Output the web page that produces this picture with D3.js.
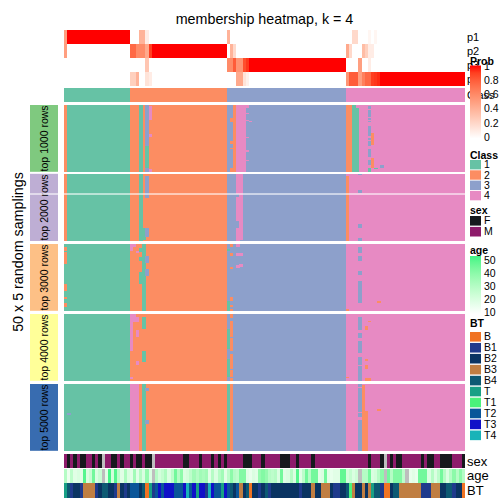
<!DOCTYPE html>
<html><head><meta charset="utf-8">
<script src="https://cdn.jsdelivr.net/npm/d3@7"></script>
<style>body{margin:0;background:#fff;} text{font-family:"Liberation Sans",Arial,sans-serif;}</style>
</head><body><svg id="c" width="504" height="504"></svg>
<script>
// ---------------- data ----------------
const classIds = [1,2,3,4];
const classOfColumn = [
 1,1,1,1,1,1,1,1,1,1,1,1,1,1,1,1,
 1,1,1,1,1,2,2,2,2,2,2,2,2,2,2,2,
 2,2,2,2,2,2,2,2,2,2,2,2,2,2,2,2,
 2,2,2,2,3,3,3,3,3,3,3,3,3,3,3,3,
 3,3,3,3,3,3,3,3,3,3,3,3,3,3,3,3,
 3,3,3,3,3,3,3,3,3,3,4,4,4,4,4,4,
 4,4,4,4,4,4,4,4,4,4,4,4,4,4,4,4,
 4,4,4,4,4,4,4,4,4,4,4,4,4,4,4,4];
const p1 = [
 .5,1,1,1,1,1,1,1,1,1,1,1,1,1,1,1,
 1,1,1,1,1,0,0,0,.4,.4,.1,0,0,0,0,0,
 0,0,0,0,0,0,0,0,0,0,0,0,0,0,0,0,
 0,0,0,0,.4,0,0,0,0,0,0,0,0,0,0,0,
 0,0,0,0,0,0,0,0,0,0,0,0,0,0,0,0,
 0,0,0,0,0,0,0,0,0,0,0,0,.2,.2,0,0,
 0,.05,0,.05,0,0,0,0,0,0,0,0,0,0,0,0,
 0,0,0,0,0,0,0,0,0,0,0,0,0,0,0,0];
const p2 = [
 .5,0,0,0,0,0,0,0,0,0,0,0,0,0,0,0,
 0,0,0,0,0,.75,.75,.6,.6,.6,.45,.9,1,1,1,1,
 1,1,1,1,1,1,1,1,1,1,1,1,1,1,1,1,
 1,1,1,1,0,.4,.2,0,0,0,0,0,0,0,0,0,
 0,0,0,0,0,0,0,0,0,0,0,0,0,0,0,0,
 0,0,0,0,0,0,0,0,0,0,.45,.2,0,0,0,.35,
 .25,.1,.1,0,0,0,0,0,0,0,0,0,0,0,0,0,
 0,0,0,0,0,0,0,0,0,0,0,0,0,0,0,0];
const p3 = [
 0,0,0,0,0,0,0,0,0,0,0,0,0,0,0,0,
 0,0,0,0,0,0,0,0,0,0,.3,0,0,0,0,0,
 0,0,0,0,0,0,0,0,0,0,0,0,0,0,0,0,
 0,0,0,0,.6,.6,.8,.55,.55,.85,.92,1,1,1,1,1,
 1,1,1,1,1,1,1,1,1,1,1,1,1,1,1,1,
 1,1,1,1,1,1,1,1,1,1,0,0,0,0,.5,0,
 0,.1,0,0,0,0,0,0,0,0,0,0,0,0,0,0,
 0,0,0,0,0,0,0,0,0,0,0,0,0,0,0,0];
const p4 = [
 0,0,0,0,0,0,0,0,0,0,0,0,0,0,0,0,
 0,0,0,0,0,.25,.25,.4,0,0,.15,.1,0,0,0,0,
 0,0,0,0,0,0,0,0,0,0,0,0,0,0,0,0,
 0,0,0,0,0,0,0,.45,.45,.15,.08,0,0,0,0,0,
 0,0,0,0,0,0,0,0,0,0,0,0,0,0,0,0,
 0,0,0,0,0,0,0,0,0,0,.55,.8,.8,.8,.5,.65,
 .75,.75,.9,.92,.95,1,1,1,1,1,1,1,1,1,1,1,
 1,1,1,1,1,1,1,1,1,1,1,1,1,1,1,1];
const probNames = ["p1","p2","p3","p4"];
const N=null;
const sex = [
 "M","F","M","F","M","F","F","M","M","F","M","F",N,"M","M","F",
 "F","M","F","M","M","F","M","F","F","M","F","F",N,"M","M","M",
 "M","M","M","M","M","M","F","F","M","M","M","F","M","M","M","F",
 "M","F","M","F","M","M","M","M","M","F","F","F","M","M","M","F",
 "M","M","M","M","M","F","F","F","M","M","F","M","M","M","M","F",
 "M","M","M","M","M","M","M","M","M","M","M","M","M","M","M","M",
 "M","F","M","M","M","F",N,"M","F","M","F","F","M","M","M","M",
 "M","M","F","M","F","F","M","M","F","F","F","F","M","M","M","F"];
const age = [
 30,15,28,18,20,18,50,20,25,45,20,25,N,18,52,22,
 50,28,18,32,20,18,35,18,30,20,38,20,N,30,22,26,
 32,20,28,45,30,40,20,22,28,35,30,35,33,35,18,30,
 20,30,35,18,28,40,30,28,42,42,18,16,20,18,38,42,
 38,30,28,30,20,45,18,20,30,20,50,18,28,45,30,45,
 45,18,20,45,18,16,18,18,48,48,22,26,20,24,N,30,
 30,45,20,22,30,40,N,45,30,42,42,42,28,N,16,18,
 16,45,45,45,20,30,20,28,45,30,20,30,40,30,40,30];
const bt = [
 "T","B4","B1","B2","B2","B1","B3","B3","B3","B3","B1","B2","B4","B4","B2","B2",
 "B1","B3","B2","B1","B2","T2","T2","T2","B2","B4","B","T","B1","T2","T3","T2",
 "T3","T3","T3","T2","T2","T2","T3","T4","T2","T3","T","T3","T3","B1","T4","T3",
 "T2","T2","T","T3","T2","B4","B2","T2","B3","B2","B4","B","B2","B2","B1","B2",
 "B4","B1","B2","B2","B2","B2","B2","B2","B2","B2","B2","B1","B2","B2","B2","B3",
 "B2","B2","B3","B3","B3","B2","B1","B1","B2","B2","B4","T1","B3","B2","B2","B3",
 "B2","B3","T","B4","B4","B1","B","B","B2","B4","B4","B3","B3","B3","B3","B3",
 "B3","B3","B1","B1","B1","B3","B3","B3","B2","B2","B4","B4","B1","B2","B2","B"];
const btLevels = ["B","B1","B2","B3","B4","T","T1","T2","T3","T4"];
const sexLevels = ["F","M"];
const ageTicks = [10,20,30,40,50];
const ageRange = [9,53];
const probTicks = [0,0.2,0.4,0.6,0.8,1];
const groupLabels = ["top 1000 rows","top 2000 rows","top 3000 rows","top 4000 rows","top 5000 rows"];
const rowsPerGroup = 50;
// deviations from the column class: [group, column, firstRow, lastRow, class]
const cellOverrides = [
 [0,0,0,49,2],[0,24,0,49,1],[0,26,0,30,3],[0,26,31,46,1],[0,26,47,49,3],[0,27,1,10,4],[0,27,22,23,4],[0,27,48,49,4],
 [0,53,10,12,2],[0,53,27,28,2],[0,53,32,32,2],[0,53,47,49,2],[0,54,0,49,2],[0,55,0,49,4],[0,56,0,49,4],[0,57,0,49,4],
 [0,58,0,1,4],[0,58,6,6,4],[0,58,11,11,4],[0,59,12,12,4],[0,58,24,24,4],[0,58,34,34,4],[0,58,41,41,4],
 [0,90,0,49,2],[0,91,0,49,2],[0,92,0,49,1],[0,93,2,49,1],[0,97,1,2,3],[0,97,4,8,3],[0,97,10,10,3],[0,97,12,12,3],
 [0,97,16,22,3],[0,97,25,25,3],[0,97,27,30,3],[0,97,33,38,3],[0,97,41,44,3],[0,98,21,29,2],[0,98,40,46,2],
 [0,97,47,49,1],[0,99,47,47,1],[0,101,45,46,3],
 [1,0,0,49,2],[1,24,0,49,1],[1,26,2,17,3],[1,25,40,48,1],[1,26,40,46,3],
 [1,55,0,14,4],[1,55,17,34,4],[1,55,40,49,4],[1,56,0,48,4],
 [1,90,2,49,2],[1,94,0,0,3],[1,94,12,13,3],[1,94,37,39,3],[1,94,48,49,3],
 [2,0,2,4,2],[2,0,6,14,2],[2,0,30,34,2],[2,0,40,40,2],[2,0,44,46,2],
 [2,21,0,4,4],[2,22,0,1,4],[2,23,5,6,4],[2,24,3,5,1],[2,24,10,12,1],[2,24,21,29,1],[2,25,0,49,1],[2,26,9,13,3],[2,26,19,23,3],
 [2,53,0,1,2],[2,53,7,8,2],[2,53,17,18,2],[2,53,40,42,2],[2,53,46,46,2],[2,53,49,49,2],[2,52,4,4,1],[2,52,43,49,1],
 [2,55,0,1,4],[2,55,7,8,4],[2,56,7,8,4],[2,56,15,16,4],[2,55,16,17,4],
 [2,94,2,6,3],[2,94,9,12,3],[2,94,20,22,3],[2,94,28,42,3],[2,94,43,43,3],[2,100,43,43,2],[2,90,49,49,2],
 [3,21,0,27,4],[3,21,47,48,4],[3,22,0,5,4],[3,23,2,5,4],[3,23,12,16,4],[3,23,35,37,4],[3,25,2,10,1],[3,25,28,35,1],
 [3,52,11,25,1],[3,52,34,46,1],[3,53,0,2,2],[3,53,5,14,2],[3,53,15,16,2],[3,53,18,27,2],[3,53,30,31,2],[3,53,32,40,2],[3,53,42,46,2],[3,53,48,49,2],
 [3,90,47,47,2],[3,94,2,11,3],[3,94,14,17,3],[3,94,20,28,3],[3,94,32,37,3],[3,94,39,49,3],[3,97,5,5,2],[3,96,9,11,2],[3,96,34,34,2],[3,96,38,40,2],[3,96,48,49,2],[3,97,48,49,2],
 [4,1,22,22,3],[4,21,0,49,4],[4,22,0,49,4],[4,23,0,49,4],[4,25,0,49,1],[4,26,3,4,3],[4,26,27,29,3],
 [4,52,0,49,1],[4,53,0,49,2],
 [4,94,0,1,3],[4,94,3,20,3],[4,94,22,24,3],[4,94,27,49,3],[4,95,1,49,2],[4,96,20,49,2],[4,100,19,19,2]
];
// a thin white split inside the second group, after this row
const splitAfter = [[1,15]];

// ---------------- colours ----------------
const classColor = d3.scaleOrdinal().domain(classIds).range(["#66C2A5","#FC8D62","#8DA0CB","#E78AC3"]);
const groupColor = d3.scaleOrdinal().domain(groupLabels).range(["#7FC97F","#BEAED4","#FDC086","#FFFF99","#386CB0"]);
const probColor = d3.scaleLinear().domain([0,1]).range(["#FFFFFF","#FF0000"]).interpolate(d3.interpolateLab);
const sexColor = d3.scaleOrdinal().domain(sexLevels).range(["#16191D","#8E1B6B"]);
const ageColor = d3.scaleLinear().domain(ageRange).range(["#FFFFFF","#3DF585"]).interpolate(d3.interpolateLab);
const btColor = d3.scaleOrdinal().domain(btLevels).range(["#F07323","#1F3A8C","#0A3462","#C07E42","#0D5A73","#18A085","#4AF27B","#0A5699","#1010C8","#18B3B8"]);
const NA = "#BEBEBE";

// ---------------- layout ----------------
const svg = d3.select("#c");
const nCol = classOfColumn.length;
const x = d3.scaleBand().domain(d3.range(nCol)).range([64,465]);
const cw = x.bandwidth();
const yProb = d3.scaleBand().domain(probNames).range([30,86]);
const classRow = {y:88,h:14};
const groupTop = [105,173.8,244,314,384];
const groupH = [66.8,67.2,66.8,66.8,66.8];
const bottomRows = [{name:"sex",y:454,h:14},{name:"age",y:468.7,h:14},{name:"BT",y:483.4,h:14.4}];
const font = '"Liberation Sans",Arial,sans-serif';

const cells = svg.append("g").attr("shape-rendering","crispEdges");

// probability rows
const probData = [p1,p2,p3,p4];
probNames.forEach((nm,k)=>{
  cells.selectAll(null).data(probData[k]).join("rect")
   .attr("x",(d,i)=>x(i)).attr("width",cw+0.3)
   .attr("y",yProb(nm)).attr("height",yProb.bandwidth())
   .attr("fill",d=>probColor(d));
});
// class row
cells.selectAll(null).data(classOfColumn).join("rect")
  .attr("x",(d,i)=>x(i)).attr("width",cw+0.3)
  .attr("y",classRow.y).attr("height",classRow.h)
  .attr("fill",d=>classColor(d));

// main heatmap
groupLabels.forEach((lab,g)=>{
  const ry = d3.scaleLinear().domain([0,rowsPerGroup]).range([groupTop[g],groupTop[g]+groupH[g]]);
  cells.selectAll(null).data(classOfColumn).join("rect")
    .attr("x",(d,i)=>x(i)).attr("width",cw+0.3)
    .attr("y",ry(0)).attr("height",ry(rowsPerGroup)-ry(0))
    .attr("fill",d=>classColor(d));
  cells.selectAll(null).data(cellOverrides.filter(o=>o[0]===g)).join("rect")
    .attr("x",d=>x(d[1])).attr("width",cw+0.3)
    .attr("y",d=>ry(d[2])).attr("height",d=>ry(d[3]+1)-ry(d[2]))
    .attr("fill",d=>classColor(d[4]));
  // left group block
  svg.append("rect").attr("x",30).attr("y",ry(0)).attr("width",28).attr("height",ry(rowsPerGroup)-ry(0))
    .attr("fill",groupColor(lab));
  svg.append("text").attr("transform",`translate(47.6,${(ry(0)+ry(rowsPerGroup))/2}) rotate(-90)`)
    .attr("text-anchor","middle").attr("font-size",10.5).attr("fill","#000").text(lab);
});
splitAfter.forEach(([g,r])=>{
  const ry = d3.scaleLinear().domain([0,rowsPerGroup]).range([groupTop[g],groupTop[g]+groupH[g]]);
  svg.append("rect").attr("x",30).attr("width",28).attr("y",ry(r)-0.5).attr("height",1.1).attr("fill","#fff");
  svg.append("rect").attr("x",64).attr("width",401).attr("y",ry(r)-0.5).attr("height",1.1).attr("fill","#fff");
});

// bottom annotations
cells.selectAll(null).data(sex).join("rect")
  .attr("x",(d,i)=>x(i)).attr("width",cw+0.3).attr("y",bottomRows[0].y).attr("height",bottomRows[0].h)
  .attr("fill",d=>d==null?NA:sexColor(d));
cells.selectAll(null).data(age).join("rect")
  .attr("x",(d,i)=>x(i)).attr("width",cw+0.3).attr("y",bottomRows[1].y).attr("height",bottomRows[1].h)
  .attr("fill",d=>d==null?NA:ageColor(d));
cells.selectAll(null).data(bt).join("rect")
  .attr("x",(d,i)=>x(i)).attr("width",cw+0.3).attr("y",bottomRows[2].y).attr("height",bottomRows[2].h)
  .attr("fill",d=>btColor(d));

// title & row title
svg.append("text").attr("x",264.5).attr("y",24).attr("text-anchor","middle").attr("font-size",14.3).text("membership heatmap, k = 4");
svg.append("text").attr("transform","translate(22.5,252) rotate(-90)").attr("text-anchor","middle").attr("font-size",14.3).text("50 x 5 random samplings");

// right-side row names
probNames.forEach(nm=>{
  svg.append("text").attr("x",467).attr("y",yProb(nm)+yProb.bandwidth()/2).attr("dy","0.35em").attr("font-size",11).text(nm);
});
svg.append("text").attr("x",467).attr("y",classRow.y+classRow.h/2).attr("dy","0.35em").attr("font-size",11).text("Class");
bottomRows.forEach(r=>{
  svg.append("text").attr("x",467).attr("y",r.y+r.h/2).attr("dy","0.35em").attr("font-size",13).text(r.name);
});

// ---------------- legends ----------------
const lx = 470, lw = 11, labX = 484, lfs = 10.5;
const defs = svg.append("defs");
function gradient(id, scale, dom){
  const gr = defs.append("linearGradient").attr("id",id).attr("x1",0).attr("y1",0).attr("x2",0).attr("y2",1);
  d3.range(0,1.0001,0.1).forEach(t=>{
    gr.append("stop").attr("offset",t).attr("stop-color",scale(dom[1]-(dom[1]-dom[0])*t));
  });
}
function title(t,y){ svg.append("text").attr("x",lx).attr("y",y).attr("font-size",lfs).attr("font-weight","bold").text(t); }

// Prob
title("Prob",65);
gradient("gprob",probColor,[0,1]);
svg.append("rect").attr("x",lx).attr("y",65.5).attr("width",lw).attr("height",73).attr("fill","url(#gprob)");
const probLegY = d3.scaleLinear().domain([0,1]).range([137,66.5]);
probTicks.forEach(t=>{
  svg.append("text").attr("x",labX).attr("y",probLegY(t)).attr("dy","0.35em").attr("font-size",lfs).text(t);
});
// Class
title("Class",159);
classIds.forEach((c,i)=>{
  svg.append("rect").attr("x",lx).attr("y",160+i*10.3).attr("width",lw).attr("height",9.4).attr("fill",classColor(c));
  svg.append("text").attr("x",labX).attr("y",160+i*10.3+4.7).attr("dy","0.35em").attr("font-size",lfs).text(c);
});
// sex
title("sex",214.3);
sexLevels.forEach((s,i)=>{
  svg.append("rect").attr("x",lx).attr("y",216+i*10.9).attr("width",lw).attr("height",9.6).attr("fill",sexColor(s));
  svg.append("text").attr("x",labX).attr("y",216+i*10.9+4.8).attr("dy","0.35em").attr("font-size",lfs).text(s);
});
// age
title("age",253.5);
gradient("gage",ageColor,ageRange);
const ageLegY = d3.scaleLinear().domain(ageRange).range([314,256]);
svg.append("rect").attr("x",lx).attr("y",ageLegY(ageRange[1])).attr("width",lw).attr("height",ageLegY(ageRange[0])-ageLegY(ageRange[1])).attr("fill","url(#gage)");
ageTicks.forEach(t=>{
  svg.append("text").attr("x",labX).attr("y",ageLegY(t)).attr("dy","0.35em").attr("font-size",lfs).text(t);
});
// BT
title("BT",326.5);
btLevels.forEach((b,i)=>{
  svg.append("rect").attr("x",lx).attr("y",332+i*10.95).attr("width",lw).attr("height",9.6).attr("fill",btColor(b));
  svg.append("text").attr("x",labX).attr("y",332+i*10.95+4.8).attr("dy","0.35em").attr("font-size",lfs).text(b);
});
</script></body></html>
